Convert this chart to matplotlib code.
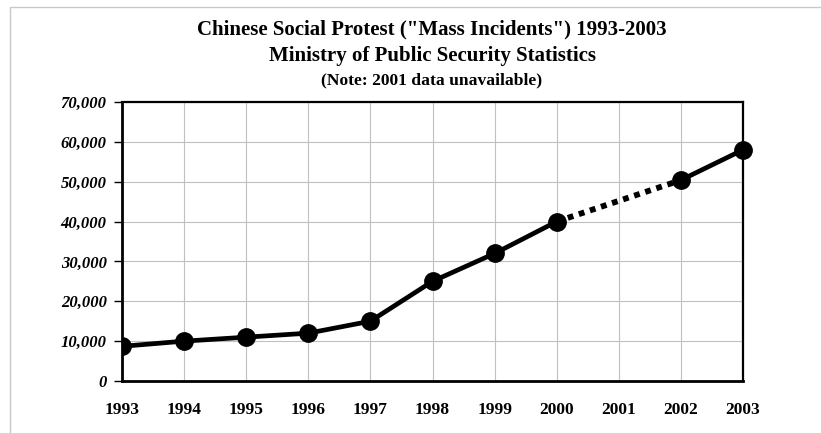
import matplotlib.pyplot as plt
from matplotlib.patches import Rectangle
from matplotlib.ticker import FuncFormatter

years = ["1993", "1994", "1995", "1996", "1997", "1998", "1999", "2000", "2001", "2002", "2003"]
incidents = [8700, 10000, 11000, 12000, 15000, 25000, 32000, 40000, None, 50400, 58000]

plt.rcParams["font.family"] = ["Liberation Serif", "DejaVu Serif"]

fig = plt.figure(figsize=(8.21, 4.33), dpi=100)
W, H = 821, 433
ax = fig.add_axes([122 / W, 1 - 381 / H, (743 - 122) / W, (381 - 102) / H])

# light border of the chart area
fig.patches.append(Rectangle((10 / W, -0.1), 1.2, 1 - 7 / H + 0.1, transform=fig.transFigure,
                             fill=False, edgecolor="#c8c8c8", linewidth=1))

x = list(range(len(years)))
ax.plot(x[:8], incidents[:8], color="black", lw=3.4, marker="o", ms=12.5, zorder=3)
ax.plot(x[9:], incidents[9:], color="black", lw=3.4, marker="o", ms=12.5, zorder=3,
        clip_on=False)
ax.plot([x[7], x[9]], [incidents[7], incidents[9]], color="black", lw=4.2,
        linestyle=(0, (1, 1)), zorder=3)

ax.set_xlim(0, 10)
ax.set_ylim(0, 70000)
ax.set_xticks(x)
ax.set_xticklabels(years, fontsize=12.5, fontweight="bold")
ax.set_yticks(range(0, 70001, 10000))
ax.yaxis.set_major_formatter(FuncFormatter(lambda v, p: f"{int(v):,}"))
for lab in ax.get_yticklabels():
    lab.set_fontsize(12)
    lab.set_fontweight("bold")
    lab.set_fontstyle("italic")
ax.tick_params(axis="x", length=0, pad=15)
ax.tick_params(axis="y", length=6, width=1, pad=5)
ax.grid(True, color="#c0c0c0", linewidth=0.8)
ax.set_axisbelow(True)
for side in ["left", "bottom"]:
    ax.spines[side].set_linewidth(2)
for side in ["top", "right"]:
    ax.spines[side].set_linewidth(1.6)
for side in ax.spines:
    ax.spines[side].set_zorder(4)

fig.text(432 / W, 1 - 29 / H, 'Chinese Social Protest ("Mass Incidents") 1993-2003',
         ha="center", va="center", fontsize=15, fontweight="bold")
fig.text(432 / W, 1 - 56 / H, "Ministry of Public Security Statistics",
         ha="center", va="center", fontsize=15, fontweight="bold")
fig.text(432 / W, 1 - 80 / H, "(Note: 2001 data unavailable)",
         ha="center", va="center", fontsize=12.6, fontweight="bold")

fig.savefig("out.png", dpi=100)
